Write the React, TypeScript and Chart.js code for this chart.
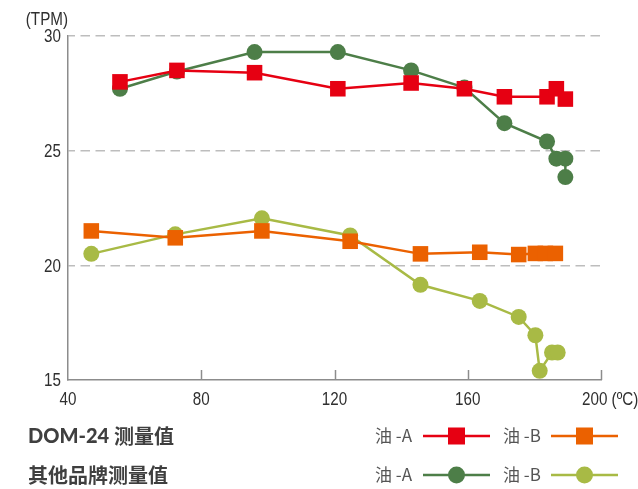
import React, { useEffect, useRef } from 'react';
import { Chart, registerables } from 'chart.js';

Chart.register(...registerables);

// ---- data ----
const xTicks = [40, 80, 120, 160, 200];
const yTicks = [15, 20, 25, 30];

const domAX = [55.6, 72.7, 96, 121, 143, 159, 171, 183.8, 186.6, 189.3];
const domAY = [28.0, 28.5, 28.4, 27.7, 27.95, 27.7, 27.35, 27.35, 27.7, 27.25];

const domBX = [47, 72.2, 98.2, 124.7, 145.8, 163.6, 175.3, 180.3, 183.3, 186.3];
const domBY = [21.5, 21.2, 21.5, 21.05, 20.5, 20.57, 20.47, 20.52, 20.52, 20.52];

const othAX = [55.6, 72.7, 96, 121, 143, 159, 171, 183.8, 186.6, 189.3, 189.3];
const othAY = [27.7, 28.45, 29.3, 29.3, 28.5, 27.75, 26.2, 25.4, 24.65, 24.65, 23.85];

const othBX = [47, 72.2, 98.2, 124.7, 145.8, 163.6, 175.3, 180.3, 181.6, 185.3, 187];
const othBY = [20.5, 21.35, 22.05, 21.3, 19.15, 18.45, 17.75, 16.95, 15.4, 16.2, 16.2];

const groupLatin = ['DOM-24 ', ''];
const groupCJK = ['测量值', '其他品牌测量值'];
const oilLabels = ['油 -A', '油 -B'];
const yUnit = '(TPM)';
const xUnit = '(ºC)';

const RED = '#e60012';
const ORANGE = '#eb6100';
const DKGREEN = '#4d7e48';
const LTGREEN = '#a8ba45';

const SANS = "'Liberation Sans', Arial, sans-serif";
const CJK = "'Noto Sans CJK SC', 'Noto Sans', sans-serif";
const NARROW_SCALE = 0.8;

const pts = (xs: number[], ys: number[]) => xs.map((x, i) => ({ x, y: ys[i] }));

function narrowText(ctx: CanvasRenderingContext2D, text: string, x: number, y: number, align: CanvasTextAlign) {
  ctx.save();
  ctx.translate(x, y);
  ctx.scale(NARROW_SCALE, 1);
  ctx.textAlign = align;
  ctx.textBaseline = 'middle';
  ctx.fillText(text, 0, 0);
  ctx.restore();
}

const extrasPlugin = {
  id: 'extras',
  afterDraw(chart: any) {
    const ctx = chart.ctx as CanvasRenderingContext2D;
    const xs = chart.scales.x;
    const ys = chart.scales.y;
    const { left, bottom } = chart.chartArea;
    ctx.save();
    // inner tick marks on x axis
    ctx.strokeStyle = '#8c8c8c';
    ctx.lineWidth = 1.5;
    xTicks.slice(1).forEach((v) => {
      const px = Math.round(xs.getPixelForValue(v)) + 0.5;
      ctx.beginPath();
      ctx.moveTo(px, bottom);
      ctx.lineTo(px, bottom - 10);
      ctx.stroke();
    });

    // tick labels (condensed)
    ctx.fillStyle = '#2f2f2f';
    ctx.font = `19px ${SANS}`;
    yTicks.forEach((v) => {
      narrowText(ctx, String(v), left - 7, ys.getPixelForValue(v) + 1, 'right');
    });
    xTicks.forEach((v, i) => {
      const px = xs.getPixelForValue(v);
      if (i === xTicks.length - 1) {
        narrowText(ctx, `${v} ${xUnit}`, px - 19, bottom + 20, 'left');
      } else {
        narrowText(ctx, String(v), px, bottom + 20, 'center');
      }
    });
    narrowText(ctx, yUnit, left, ys.getPixelForValue(30) - 16, 'right');

    // legend
    const rows = [436, 475];
    const markers = [
      [{ c: RED, sq: true }, { c: ORANGE, sq: true }],
      [{ c: DKGREEN, sq: false }, { c: LTGREEN, sq: false }],
    ];
    rows.forEach((ry, r) => {
      ctx.fillStyle = '#3f3f3f';
      ctx.textAlign = 'left';
      ctx.textBaseline = 'middle';
      let gx = 28;
      if (groupLatin[r]) {
        ctx.font = `900 20px Lato, ${CJK}`;
        ctx.fillText(groupLatin[r], gx, ry + 1);
        gx += ctx.measureText(groupLatin[r]).width;
      }
      ctx.font = `bold 20px ${CJK}`;
      ctx.fillText(groupCJK[r], gx, ry);
      const starts = [375, 503];
      markers[r].forEach((m, k) => {
        const sx = starts[k];
        ctx.fillStyle = '#555';
        ctx.font = `17px ${CJK}`;
        ctx.textAlign = 'left';
        ctx.fillText(oilLabels[k], sx, ry);
        const lx0 = sx + 48;
        const lx1 = sx + 115;
        ctx.strokeStyle = m.c;
        ctx.lineWidth = 2.5;
        ctx.beginPath();
        ctx.moveTo(lx0, ry);
        ctx.lineTo(lx1, ry);
        ctx.stroke();
        ctx.fillStyle = m.c;
        const cx = (lx0 + lx1) / 2;
        if (m.sq) {
          ctx.fillRect(cx - 8.5, ry - 8.5, 17, 17);
        } else {
          ctx.beginPath();
          ctx.arc(cx, ry, 8.5, 0, Math.PI * 2);
          ctx.fill();
        }
      });
    });
    ctx.restore();
  },
};

export default function App() {
  const ref = useRef<HTMLCanvasElement | null>(null);
  useEffect(() => {
    if (!ref.current) return;
    const sqR = 11;
    const cR = 8;
    const mk = (label: string, xs: number[], ys: number[], color: string, style: string, r: number) => ({
      label,
      data: pts(xs, ys),
      borderColor: color,
      backgroundColor: color,
      borderWidth: 2.5,
      pointStyle: style,
      pointRadius: r,
      pointBorderWidth: 0,
      tension: 0,
    });
    const chart = new Chart(ref.current, {
      type: 'line',
      data: {
        datasets: [
          mk('DOM-24 油-A', domAX, domAY, RED, 'rect', sqR),
          mk('DOM-24 油-B', domBX, domBY, ORANGE, 'rect', sqR),
          mk('其他品牌 油-A', othAX, othAY, DKGREEN, 'circle', cR),
          mk('其他品牌 油-B', othBX, othBY, LTGREEN, 'circle', cR),
        ],
      },
      options: {
        animation: false,
        responsive: false,
        parsing: false as any,
        layout: { padding: { left: 0, top: 36, right: 37, bottom: 79 } },
        plugins: { legend: { display: false }, tooltip: { enabled: false } },
        scales: {
          x: {
            type: 'linear',
            min: 40,
            max: 200,
            afterBuildTicks: (s: any) => {
              s.ticks = xTicks.map((v) => ({ value: v }));
            },
            afterFit: (s: any) => {
              s.height = 30;
            },
            grid: { display: false, drawTicks: false },
            border: { display: true, color: '#8c8c8c', width: 1.5 },
            ticks: { display: false },
          },
          y: {
            type: 'linear',
            min: 15,
            max: 30,
            afterBuildTicks: (s: any) => {
              s.ticks = yTicks.map((v) => ({ value: v }));
            },
            afterFit: (s: any) => {
              s.width = 68;
            },
            grid: {
              drawTicks: false,
              lineWidth: 1.5,
              color: (c: any) => (c.tick && c.tick.value === 15 ? 'rgba(0,0,0,0)' : '#bdbdbd'),
            },
            border: { display: true, color: '#8c8c8c', width: 1.5, dash: [9.5, 5.5], dashOffset: 3 },
            ticks: { display: false },
          },
        },
      },
      plugins: [extrasPlugin],
    } as any);
    return () => chart.destroy();
  }, []);
  return (
    <div style={{ position: 'absolute', left: 0, top: 0, width: 638, height: 489, background: '#fff' }}>
      <canvas ref={ref} width={638} height={489} style={{ display: 'block', width: 638, height: 489 }} />
    </div>
  );
}
